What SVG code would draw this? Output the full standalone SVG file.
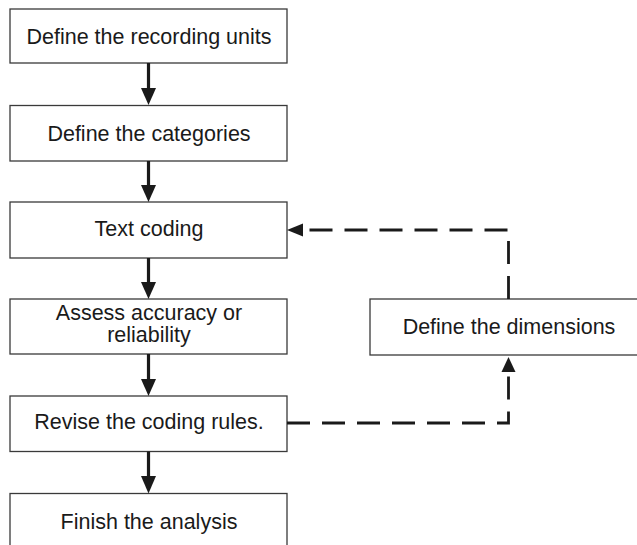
<svg xmlns="http://www.w3.org/2000/svg" width="637" height="545" viewBox="0 0 637 545">
<defs>
<style>
.box{fill:#fff;stroke:#3a3a3a;stroke-width:1.3}
.lbl{font-family:"Liberation Sans",Arial,sans-serif;font-size:21.5px;fill:#1a1a1a;text-anchor:middle}
.solid{stroke:#1a1a1a;stroke-width:3.2;fill:none}
.dash{stroke:#1a1a1a;stroke-width:2.8;fill:none;stroke-dasharray:23 12}
.head{fill:#1a1a1a}
</style>
</defs>
<rect width="637" height="545" fill="#fff"/>
<g id="n1"><rect class="box" x="10" y="9" width="277" height="54"/><text class="lbl" x="149" y="44">Define the recording units</text></g>
<g id="n2"><rect class="box" x="10" y="105.5" width="277" height="55.5"/><text class="lbl" x="149" y="141">Define the categories</text></g>
<g id="n3"><rect class="box" x="10" y="202" width="277" height="56"/><text class="lbl" x="149" y="236">Text coding</text></g>
<g id="n4"><rect class="box" x="10" y="299" width="277" height="55"/><text class="lbl" x="149" y="320">Assess accuracy or</text><text class="lbl" x="149" y="342">reliability</text></g>
<g id="n5"><rect class="box" x="10" y="396" width="277" height="55.5"/><text class="lbl" x="149" y="429">Revise the coding rules.</text></g>
<g id="n6"><rect class="box" x="10" y="493.5" width="277" height="60"/><text class="lbl" x="149" y="529">Finish the analysis</text></g>
<g id="n7"><rect class="box" x="370" y="299" width="280" height="56"/><text class="lbl" x="509" y="334">Define the dimensions</text></g>
<g id="connectors">
<line class="solid" x1="148.5" y1="63" x2="148.5" y2="89"/><polygon class="head" points="141,88 156,88 148.5,105"/>
<line class="solid" x1="148.5" y1="161" x2="148.5" y2="186"/><polygon class="head" points="141,185 156,185 148.5,202"/>
<line class="solid" x1="148.5" y1="258" x2="148.5" y2="283"/><polygon class="head" points="141,282 156,282 148.5,299"/>
<line class="solid" x1="148.5" y1="354" x2="148.5" y2="380"/><polygon class="head" points="141,379 156,379 148.5,396"/>
<line class="solid" x1="148.5" y1="451.5" x2="148.5" y2="477"/><polygon class="head" points="141,476 156,476 148.5,493.5"/>
<path class="dash" d="M287,423 H508.5 V375" stroke-dasharray="23 12 23 12 23 12 23 12 23 12 23 12 8 7 23 12"/>
<polygon class="head" points="508.5,357 501.5,372 515.5,372"/>
<path class="dash" d="M508.5,299 V230 H309" stroke-dasharray="23 12 23 12 23 12 23 12 23 12 23 12 23 12 23"/>
<polygon class="head" points="287,230 303,223.5 303,236.5"/>
</g>
</svg>
